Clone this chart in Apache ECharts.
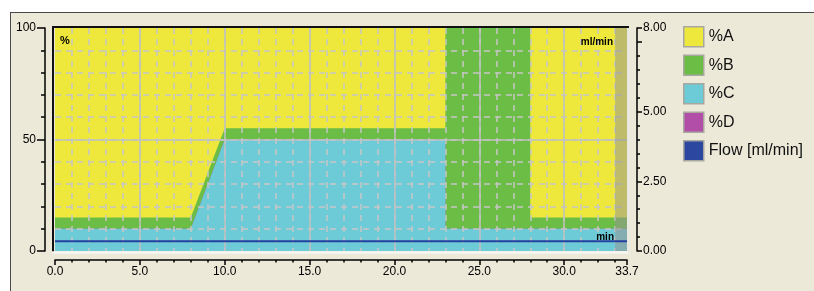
<!DOCTYPE html>
<html><head><meta charset="utf-8">
<script src="https://cdn.jsdelivr.net/npm/echarts@6/dist/echarts.min.js"></script>
<style>
html,body{margin:0;padding:0;background:#fff;overflow:hidden;width:814px;height:291px;}
#bg{position:absolute;left:10px;top:12px;right:0;bottom:0;background:#ECE9D8;border-left:1.5px solid #4a4a4a;border-top:1.5px solid #4a4a4a;}
#chart{position:absolute;left:0;top:0;width:814px;height:291px;}
</style></head>
<body><div id="bg"></div><div id="chart"></div>
<script>
// ---- data ----
const time  = [0, 8, 10, 23, 23, 28, 28, 33.7];   // min
const pctA  = [85, 85, 45, 45, 0, 0, 85, 85];
const pctB  = [5, 5, 5, 5, 90, 90, 5, 5];
const pctC  = [10, 10, 50, 50, 10, 10, 10, 10];
const pctD  = [0, 0, 0, 0, 0, 0, 0, 0];
const flow  = [0.35, 0.35, 0.35, 0.35, 0.35, 0.35, 0.35, 0.35]; // ml/min
const hatchRange = [33, 33.7];
const xMajorTicks = [0, 5, 10, 15, 20, 25, 30, 33.7];
const xMinorTicks = [1,2,3,4,6,7,8,9,11,12,13,14,16,17,18,19,21,22,23,24,26,27,28,29,31,32,33];
const flowMajorTicks = [0, 2.5, 5, 7.5, 8];
const flowLabels = [0, 2.5, 5, 8];
const flowMinorTicks = [0.5,1,1.5,2,3,3.5,4,4.5,5.5,6,6.5,7];
const legendNames = ['%A', '%B', '%C', '%D', 'Flow [ml/min]'];

// stacked tops (C at the bottom, then D, B, A)
const stackOrder = [pctC, pctD, pctB, pctA];
const tops = [];
stackOrder.forEach((arr, k) => tops.push(arr.map((v, i) => v + (k ? tops[k - 1][i] : 0))));
const [topC, topD, topB, topA] = tops;

const pairs = (ys) => time.map((t, i) => [t, ys[i]]);
const FONT = 'Liberation Sans, Arial, sans-serif';
const TXT = {fontFamily: FONT, fontSize: 12, color: '#000'};
const BLACK = {color: '#000', width: 1.5};
const XMAX = 33.7;

function hiddenAxis(extra) {
  return Object.assign({
    type: 'value', axisLine: {show: false}, axisTick: {show: false},
    axisLabel: {show: false}
  }, extra);
}
function areaSeries(name, ys, color) {
  return {
    name, type: 'line', data: pairs(ys), color,
    symbol: 'none', showSymbol: false, lineStyle: {width: 0},
    areaStyle: {color, opacity: 1, origin: 'start'}, z: 2, silent: true
  };
}

const chart = echarts.init(document.getElementById('chart'), null, {renderer: 'canvas'});
const option = {
  animation: false,
  backgroundColor: 'transparent',
  grid: {left: 55, top: 28, right: 187, bottom: 40, containLabel: false, outerBoundsMode: 'none'},
  legend: {
    orient: 'vertical', left: 683, top: 26, padding: 0,
    itemWidth: 20, itemHeight: 20, itemGap: 7, icon: 'rect',
    data: legendNames, selectedMode: false,
    itemStyle: {borderColor: '#A8A8A0', borderWidth: 1.5},
    textStyle: {fontFamily: FONT, fontSize: 16, color: '#111'}
  },
  xAxis: [
    {type: 'value', min: 0, max: XMAX, position: 'bottom', offset: 9,
     axisLine: {show: true, onZero: false, lineStyle: BLACK},
     axisTick: {show: true, length: 5, customValues: xMajorTicks, lineStyle: BLACK},
     axisLabel: Object.assign({customValues: xMajorTicks, margin: 6, formatter: v => v.toFixed(1)}, TXT),
     splitLine: {show: false}},
    {type: 'value', min: 0, max: XMAX, position: 'bottom', offset: 9,
     axisLine: {show: false, onZero: false},
     axisTick: {show: true, length: 2.5, customValues: xMinorTicks, lineStyle: BLACK},
     axisLabel: {show: false}, splitLine: {show: false}},
    hiddenAxis({min: 0, max: XMAX, interval: 1, z: 3,
      splitLine: {show: true, showMinLine: false, showMaxLine: false,
        lineStyle: {color: '#C6C6C6', width: 1.5, type: [6, 5]}}}),
    hiddenAxis({min: 0, max: XMAX, interval: 5, z: 3,
      splitLine: {show: true, showMinLine: false, showMaxLine: false,
        lineStyle: {color: '#C0C0C0', width: 1.5, type: 'solid'}}})
  ],
  yAxis: [
    {type: 'value', min: 0, max: 100, interval: 50, position: 'left', offset: 10,
     axisLine: {show: true, onZero: false, lineStyle: BLACK},
     axisTick: {show: true, length: 8, lineStyle: BLACK},
     minorTick: {show: true, splitNumber: 5, length: 4, lineStyle: BLACK},
     axisLabel: Object.assign({margin: 9}, TXT),
     splitLine: {show: false}},
    {type: 'value', min: 0, max: 8, position: 'right', offset: 10,
     axisLine: {show: true, onZero: false, lineStyle: BLACK},
     axisTick: {show: true, length: 5, customValues: flowMajorTicks, lineStyle: BLACK},
     axisLabel: Object.assign({customValues: flowLabels, margin: 6, formatter: v => v.toFixed(2)}, TXT),
     splitLine: {show: false}},
    {type: 'value', min: 0, max: 8, position: 'right', offset: 10,
     axisLine: {show: false, onZero: false},
     axisTick: {show: true, length: 3, customValues: flowMinorTicks, lineStyle: BLACK},
     axisLabel: {show: false}, splitLine: {show: false}},
    hiddenAxis({min: 0, max: 100, interval: 10, z: 3, position: 'left',
      splitLine: {show: true, showMinLine: false, showMaxLine: false,
        lineStyle: {color: '#C6C6C6', width: 1.5, type: [6, 5]}}}),
    hiddenAxis({min: 0, max: 100, interval: 50, z: 3, position: 'left',
      splitLine: {show: true, showMinLine: false, showMaxLine: false,
        lineStyle: {color: '#C0C0C0', width: 1.5, type: 'solid'}}})
  ],
  series: [
    areaSeries('%A', topA, '#EFE83C'),
    areaSeries('%B', topB, '#6BBD45'),
    areaSeries('%D', topD, '#B24EA8'),
    areaSeries('%C', topC, '#6DCBD8'),
    {name: 'Flow [ml/min]', type: 'line', yAxisIndex: 1, data: pairs(flow),
     color: '#2B47A0', symbol: 'none', showSymbol: false, z: 5, silent: true,
     lineStyle: {color: '#2440A0', width: 2},
     markArea: {silent: true, z: 4,
       itemStyle: {color: 'rgba(150,150,145,0.55)'},
       data: [[{xAxis: hatchRange[0], yAxis: 0}, {xAxis: hatchRange[1], yAxis: 8}]]}}
  ],
  graphic: [
    {type: 'line', z: 50, shape: {x1: 52, y1: 27, x2: 629, y2: 27}, style: {stroke: '#111', lineWidth: 2}},
    {type: 'line', z: 50, shape: {x1: 53, y1: 26, x2: 53, y2: 253}, style: {stroke: '#111', lineWidth: 2}},
    {type: 'line', z: 50, shape: {x1: 52, y1: 252.5, x2: 630, y2: 252.5}, style: {stroke: '#F6F6F2', lineWidth: 2.5}},
    {type: 'line', z: 50, shape: {x1: 628.5, y1: 28, x2: 628.5, y2: 253}, style: {stroke: '#E8E8E2', lineWidth: 2}},
    {type: 'text', z: 60, x: 60, y: 41, style: {text: '%', font: 'bold 11px ' + FONT, fill: '#000', verticalAlign: 'middle'}},
    {type: 'text', z: 60, x: 613, y: 42, style: {text: 'ml/min', font: 'bold 10px ' + FONT, fill: '#000', align: 'right', verticalAlign: 'middle'}},
    {type: 'text', z: 60, x: 614, y: 237, style: {text: 'min', font: 'bold 10px ' + FONT, fill: '#000', align: 'right', verticalAlign: 'middle'}}
  ]
};
chart.setOption(option);
</script>
</body></html>
